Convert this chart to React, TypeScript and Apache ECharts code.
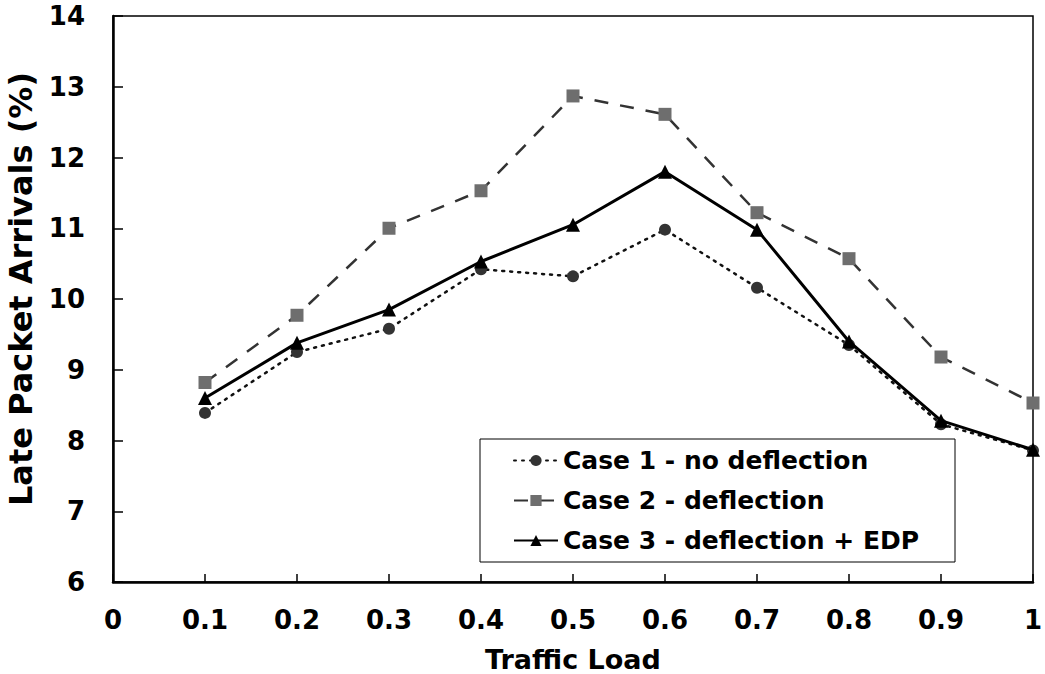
import React, { useEffect, useRef } from "react";
import * as echarts from "echarts";

const trafficLoad = [0.1, 0.2, 0.3, 0.4, 0.5, 0.6, 0.7, 0.8, 0.9, 1.0];
const case1 = [8.39, 9.25, 9.58, 10.42, 10.32, 10.98, 10.16, 9.35, 8.23, 7.86];
const case2 = [8.82, 9.77, 11.0, 11.53, 12.87, 12.61, 11.22, 10.57, 9.18, 8.53];
const case3 = [8.6, 9.38, 9.85, 10.53, 11.05, 11.8, 10.98, 9.4, 8.28, 7.87];
const seriesNames = [
  "Case 1 - no deflection",
  "Case 2 - deflection",
  "Case 3 - deflection + EDP",
];

const FONT = "DejaVu Sans";

export default function App() {
  const ref = useRef<HTMLDivElement>(null);
  useEffect(() => {
    if (!ref.current) return;
    const chart = echarts.init(ref.current, null, { renderer: "svg" });
    const pts = (ys: number[]) => trafficLoad.map((x, i) => [x, ys[i]]);
    chart.setOption({
      animation: false,
      backgroundColor: "#ffffff",
      grid: {
        left: 113,
        top: 16,
        right: 12,
        bottom: 92,
        containLabel: false,
        outerBoundsMode: "none",
        show: true,
        borderColor: "#000",
        borderWidth: 1.5,
      },
      legend: {
        orient: "vertical",
        left: 480,
        top: 439,
        padding: [9, 0, 9, 33],
        itemWidth: 44,
        itemHeight: 14,
        itemGap: 15,
        backgroundColor: "#fff",
        borderColor: "#000",
        borderWidth: 1,
        borderRadius: 0,
        textStyle: {
          fontFamily: FONT,
          fontWeight: "bold",
          fontSize: 25,
          color: "#000",
          lineHeight: 22,
          width: 392,
        },
        data: seriesNames,
      },
      xAxis: {
        type: "value",
        min: 0,
        max: 1,
        interval: 0.1,
        name: "Traffic Load",
        nameLocation: "middle",
        nameGap: 64,
        nameTextStyle: {
          fontFamily: FONT,
          fontWeight: "bold",
          fontSize: 27,
          color: "#000",
        },
        splitLine: { show: false },
        axisLine: { show: true, onZero: false, lineStyle: { color: "#000", width: 2.5 } },
        axisTick: { show: true, inside: true, length: 8, lineStyle: { color: "#000", width: 1.5 } },
        axisLabel: {
          margin: 25,
          fontFamily: FONT,
          fontWeight: "bold",
          fontSize: 26,
          color: "#000",
          formatter: (v: number) => String(Math.round(v * 10) / 10),
        },
      },
      yAxis: {
        type: "value",
        min: 6,
        max: 14,
        interval: 1,
        name: "Late Packet Arrivals (%)",
        nameLocation: "middle",
        nameGap: 76,
        nameTextStyle: {
          fontFamily: FONT,
          fontWeight: "bold",
          fontSize: 32,
          color: "#000",
          padding: [0, 0, 0, 20],
        },
        splitLine: { show: false },
        axisLine: { show: true, lineStyle: { color: "#000", width: 2.5 } },
        axisTick: { show: true, inside: true, length: 10, lineStyle: { color: "#000", width: 1.5 } },
        axisLabel: {
          margin: 28,
          fontFamily: FONT,
          fontWeight: "bold",
          fontSize: 26,
          color: "#000",
        },
      },
      series: [
        {
          name: seriesNames[0],
          type: "line",
          data: pts(case1),
          symbol: "circle",
          symbolSize: 12,
          itemStyle: { color: "#333" },
          lineStyle: { color: "#111", width: 2.5, type: [2, 6], cap: "round" },
          z: 3,
        },
        {
          name: seriesNames[1],
          type: "line",
          data: pts(case2),
          symbol: "rect",
          symbolSize: 13,
          itemStyle: { color: "#6e6e6e" },
          lineStyle: { color: "#333", width: 2.5, type: [14, 12] },
          z: 2,
        },
        {
          name: seriesNames[2],
          type: "line",
          data: pts(case3),
          symbol: "triangle",
          symbolSize: 14,
          itemStyle: { color: "#000" },
          lineStyle: { color: "#000", width: 3, type: "solid" },
          z: 4,
        },
      ],
    });
    return () => chart.dispose();
  }, []);
  return <div ref={ref} style={{ width: 1045, height: 674, position: "absolute", left: 0, top: 0 }} />;
}
